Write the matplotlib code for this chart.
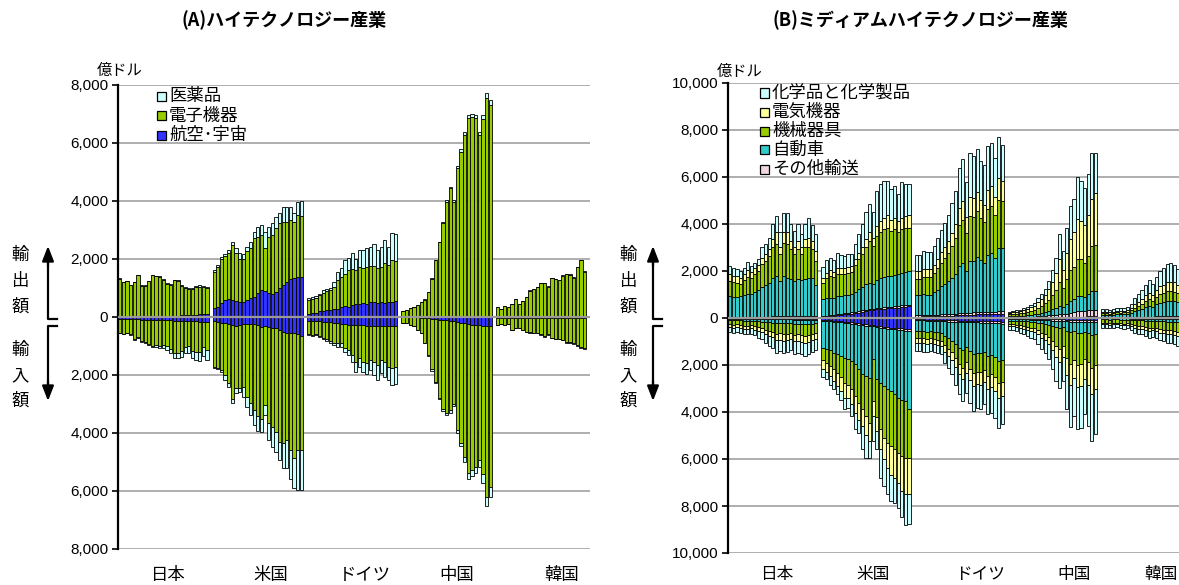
import numpy as np
import matplotlib.pyplot as plt
from matplotlib.patches import Rectangle
from matplotlib.lines import Line2D

plt.rcParams['font.family'] = ['Liberation Sans', 'Noto Sans CJK JP']
JP_FONT = ['Noto Sans CJK JP', 'DejaVu Sans']

W, H = 1179, 585
N_YEARS = 25
COUNTRIES = ['日本', '米国', 'ドイツ', '中国', '韓国']

# ---------------- (A) ハイテクノロジー産業 (億ドル) ----------------
A_LABELS = ['航空･宇宙', '電子機器', '医薬品']          # stacked from zero outwards
A_COLORS = ['#3333ff', '#99cc00', '#ccffff']

JP_A_EX_AERO = [20, 20, 20, 20, 25, 25, 25, 30, 30, 30, 30, 35, 35, 40, 40, 45, 50, 55, 60, 60, 70, 80, 90, 100, 110]
JP_A_EX_ELEC = [1300, 1190, 1210, 1090, 1175, 1410, 1060, 1045, 1195, 1405, 1370, 1345, 1245, 1110, 1080, 1220, 1195, 1010, 950, 900, 905, 965, 960, 925, 890]
JP_A_EX_PHARMA = [10, 10, 10, 10, 10, 15, 15, 15, 15, 15, 20, 20, 20, 20, 20, 25, 25, 25, 30, 30, 35, 35, 40, 45, 50]
JP_A_IM_AERO = [60, 60, 60, 70, 80, 80, 90, 90, 100, 100, 100, 110, 110, 120, 120, 130, 130, 140, 140, 140, 150, 150, 160, 160, 170]
JP_A_IM_ELEC = [480, 510, 480, 515, 680, 620, 725, 780, 820, 890, 880, 890, 850, 880, 980, 1120, 1100, 1030, 880, 870, 1020, 1050, 1060, 880, 960]
JP_A_IM_PHARMA = [20, 20, 20, 25, 30, 30, 35, 40, 50, 60, 70, 80, 100, 130, 150, 180, 200, 220, 230, 240, 260, 280, 300, 320, 340]

US_A_EX_AERO = [300, 330, 470, 590, 610, 590, 560, 530, 530, 590, 640, 700, 820, 930, 910, 840, 790, 870, 990, 1100, 1220, 1300, 1330, 1370, 1390]
US_A_EX_ELEC = [1260, 1400, 1520, 1510, 1610, 1890, 1640, 1460, 1460, 1670, 1730, 2010, 1930, 1890, 1460, 1930, 2040, 2190, 2240, 2190, 2070, 2050, 1960, 2150, 2090]
US_A_EX_PHARMA = [60, 60, 70, 70, 90, 120, 170, 210, 170, 170, 230, 230, 370, 350, 570, 350, 400, 400, 350, 490, 520, 460, 290, 460, 520]
US_A_IM_AERO = [130, 160, 200, 220, 240, 280, 300, 280, 240, 250, 250, 240, 280, 330, 310, 330, 390, 390, 450, 510, 540, 540, 560, 590, 650]
US_A_IM_ELEC = [1580, 1590, 1630, 1780, 2050, 2560, 2140, 2160, 2160, 2520, 2730, 2970, 3130, 3170, 2720, 3330, 3390, 3570, 3850, 3850, 3700, 4050, 4310, 4000, 3940]
US_A_IM_PHARMA = [40, 40, 60, 170, 140, 120, 170, 140, 350, 350, 400, 520, 520, 460, 350, 580, 690, 690, 630, 860, 980, 980, 1040, 1380, 1360]

DE_A_EX_AERO = [120, 140, 150, 210, 210, 230, 250, 290, 290, 350, 370, 350, 400, 440, 460, 480, 460, 510, 520, 480, 510, 480, 510, 520, 550]
DE_A_EX_ELEC = [480, 480, 520, 540, 630, 670, 670, 750, 970, 1030, 1130, 1260, 1270, 1170, 1260, 1220, 1260, 1240, 1230, 1220, 1220, 1370, 1280, 1440, 1380]
DE_A_EX_PHARMA = [70, 70, 70, 60, 80, 80, 90, 170, 290, 320, 460, 440, 540, 400, 600, 600, 670, 670, 760, 600, 690, 800, 630, 940, 920]
DE_A_IM_AERO = [130, 140, 150, 150, 160, 170, 180, 200, 220, 240, 240, 270, 280, 280, 290, 290, 300, 300, 310, 310, 310, 300, 300, 310, 310]
DE_A_IM_ELEC = [460, 490, 440, 520, 560, 590, 650, 680, 690, 670, 820, 870, 1030, 1260, 1130, 1250, 1270, 1180, 1230, 1340, 1170, 1260, 1410, 1460, 1420]
DE_A_IM_PHARMA = [30, 30, 30, 30, 50, 60, 60, 90, 110, 110, 140, 170, 230, 350, 290, 350, 400, 350, 460, 520, 460, 520, 460, 580, 580]

CN_A_EX_AERO = [0, 0, 0, 0, 0, 0, 5, 5, 5, 10, 10, 10, 10, 15, 15, 20, 20, 25, 30, 30, 30, 35, 40, 40, 45]
CN_A_EX_ELEC = [215, 235, 295, 355, 400, 520, 595, 850, 1305, 1940, 2560, 3240, 3970, 4425, 3965, 5110, 5670, 6265, 6830, 6860, 6830, 6235, 6790, 7520, 7275]
CN_A_EX_PHARMA = [5, 5, 5, 5, 10, 10, 10, 15, 20, 20, 30, 40, 60, 60, 60, 80, 90, 100, 110, 110, 110, 120, 140, 160, 170]
CN_A_IM_AERO = [0, 0, 0, 0, 10, 20, 30, 50, 60, 80, 100, 110, 120, 130, 150, 170, 190, 210, 230, 260, 290, 280, 300, 310, 310]
CN_A_IM_ELEC = [190, 210, 270, 300, 430, 520, 860, 1270, 1750, 2170, 2690, 3060, 3190, 3090, 2840, 3740, 4140, 4630, 5160, 5010, 4880, 4650, 5120, 5880, 5550]
CN_A_IM_PHARMA = [10, 10, 10, 10, 10, 20, 20, 30, 40, 40, 50, 60, 70, 80, 80, 100, 120, 150, 180, 200, 220, 230, 300, 330, 340]

KR_A_EX_AERO = [5, 5, 5, 5, 5, 5, 5, 10, 10, 10, 10, 10, 10, 10, 10, 15, 15, 15, 15, 15, 20, 20, 20, 20, 25]
KR_A_EX_ELEC = [335, 280, 360, 335, 450, 610, 450, 535, 670, 900, 950, 1020, 1150, 1150, 1040, 1330, 1290, 1260, 1410, 1465, 1430, 1340, 1690, 1935, 1540]
KR_A_EX_PHARMA = [5, 5, 5, 5, 5, 5, 5, 5, 10, 10, 10, 10, 10, 10, 10, 15, 15, 15, 15, 20, 20, 20, 20, 25, 25]
KR_A_IM_AERO = [20, 20, 20, 20, 30, 30, 30, 30, 30, 30, 30, 30, 40, 40, 40, 40, 40, 40, 40, 40, 40, 40, 40, 40, 40]
KR_A_IM_ELEC = [255, 215, 255, 215, 410, 350, 350, 410, 470, 495, 515, 515, 560, 620, 560, 680, 705, 705, 745, 820, 820, 865, 925, 980, 1040]
KR_A_IM_PHARMA = [5, 5, 5, 5, 10, 10, 10, 10, 10, 15, 15, 15, 20, 20, 20, 20, 25, 25, 25, 30, 30, 35, 35, 40, 40]

# ---------------- (B) ミディアムハイテクノロジー産業 (億ドル) ----------------
B_LABELS = [None, 'その他輸送', '自動車', '機械器具', '電気機器', '化学品と化学製品']
B_COLORS = ['#3333ff', '#f2d6e0', '#33cccc', '#99cc00', '#ffff99', '#ccffff']

JP_B_EX_BLUE = [20, 20, 20, 20, 20, 20, 20, 25, 25, 25, 25, 25, 30, 30, 30, 30, 30, 30, 30, 30, 30, 35, 35, 35, 35]
JP_B_EX_OTHER = [30, 30, 30, 30, 30, 30, 30, 30, 30, 35, 35, 35, 40, 40, 40, 40, 40, 45, 45, 45, 45, 50, 50, 50, 50]
JP_B_EX_AUTO = [890, 850, 850, 890, 930, 990, 960, 1065, 1125, 1260, 1350, 1440, 1650, 1720, 1510, 1720, 1650, 1575, 1505, 1575, 1535, 1565, 1635, 1605, 1325]
JP_B_EX_MACH = [640, 650, 610, 520, 630, 710, 710, 740, 820, 970, 1020, 1140, 1280, 1380, 1130, 1420, 1450, 1280, 1130, 1280, 1100, 1350, 1280, 1240, 1020]
JP_B_EX_ELEC = [280, 240, 280, 260, 250, 280, 250, 280, 260, 280, 280, 290, 350, 470, 290, 470, 470, 350, 290, 350, 290, 350, 420, 350, 400]
JP_B_EX_CHEM = [360, 340, 310, 300, 270, 360, 250, 220, 240, 430, 460, 490, 640, 690, 640, 780, 820, 710, 710, 710, 560, 640, 830, 680, 730]
JP_B_IM_BLUE = [20, 20, 20, 20, 20, 20, 20, 20, 25, 25, 25, 30, 30, 30, 30, 30, 30, 30, 35, 35, 35, 35, 35, 35, 35]
JP_B_IM_OTHER = [15, 15, 15, 15, 20, 20, 20, 20, 20, 20, 25, 25, 25, 25, 25, 30, 30, 30, 30, 30, 30, 30, 30, 30, 30]
JP_B_IM_AUTO = [60, 70, 60, 70, 80, 80, 80, 90, 100, 110, 120, 130, 140, 160, 150, 160, 160, 150, 170, 170, 180, 190, 180, 170, 160]
JP_B_IM_MACH = [160, 180, 160, 180, 200, 200, 190, 220, 250, 270, 320, 370, 390, 460, 440, 460, 440, 420, 470, 460, 480, 500, 470, 440, 420]
JP_B_IM_ELEC = [110, 120, 110, 120, 130, 130, 120, 140, 160, 170, 200, 230, 240, 280, 270, 280, 270, 260, 290, 280, 290, 300, 290, 270, 260]
JP_B_IM_CHEM = [215, 225, 215, 225, 250, 250, 240, 250, 285, 315, 360, 405, 435, 525, 495, 520, 500, 490, 525, 505, 535, 565, 515, 485, 475]

US_B_EX_BLUE = [40, 60, 90, 90, 110, 130, 160, 160, 190, 210, 230, 270, 300, 330, 330, 370, 370, 400, 410, 410, 440, 440, 470, 480, 500]
US_B_EX_OTHER = [40, 40, 40, 40, 40, 50, 50, 50, 50, 50, 60, 60, 60, 60, 60, 60, 70, 70, 70, 70, 70, 70, 70, 70, 70]
US_B_EX_AUTO = [720, 740, 740, 740, 790, 760, 770, 770, 770, 860, 930, 990, 1070, 1120, 1070, 1180, 1250, 1280, 1310, 1310, 1320, 1350, 1390, 1420, 1430]
US_B_EX_MACH = [710, 880, 920, 880, 920, 920, 880, 950, 960, 1140, 1280, 1390, 1570, 1770, 1610, 1880, 1950, 2030, 2060, 1920, 1950, 1780, 1850, 1880, 1850]
US_B_EX_ELEC = [210, 210, 240, 220, 280, 260, 260, 240, 250, 240, 280, 320, 350, 400, 350, 430, 490, 490, 540, 450, 490, 490, 490, 500, 540]
US_B_EX_CHEM = [450, 530, 510, 500, 640, 560, 520, 570, 490, 670, 780, 960, 1140, 1190, 1070, 1490, 1590, 1540, 1450, 1320, 1350, 1140, 1500, 1370, 1300]
US_B_IM_BLUE = [70, 90, 100, 110, 130, 140, 160, 170, 190, 210, 230, 240, 270, 300, 300, 330, 340, 370, 380, 410, 410, 440, 440, 470, 480]
US_B_IM_OTHER = [40, 40, 40, 40, 50, 50, 50, 50, 50, 60, 60, 60, 60, 60, 60, 60, 70, 70, 70, 70, 70, 70, 70, 70, 70]
US_B_IM_AUTO = [1150, 1210, 1240, 1330, 1370, 1430, 1480, 1540, 1590, 1700, 1900, 2100, 2140, 2180, 1400, 2220, 2350, 2460, 2590, 2630, 2770, 2880, 2960, 3000, 3340]
US_B_IM_MACH = [540, 560, 670, 710, 780, 890, 1070, 1070, 1210, 1350, 1420, 1490, 1710, 1920, 1780, 1590, 1980, 2200, 2270, 2340, 2340, 2350, 2410, 2410, 2060]
US_B_IM_ELEC = [390, 390, 420, 490, 570, 600, 630, 560, 640, 710, 710, 710, 780, 780, 640, 600, 850, 920, 1070, 1210, 1210, 1280, 1490, 1560, 1530]
US_B_IM_CHEM = [320, 320, 360, 360, 350, 400, 500, 430, 500, 680, 570, 990, 990, 710, 1060, 790, 1210, 1140, 1130, 1140, 1070, 1060, 1110, 1280, 1280]

DE_B_EX_BLUE = [60, 60, 70, 70, 70, 80, 80, 90, 90, 100, 100, 110, 120, 130, 130, 140, 140, 150, 150, 150, 160, 160, 160, 170, 170]
DE_B_EX_OTHER = [50, 50, 50, 50, 50, 60, 60, 60, 70, 70, 70, 80, 80, 90, 90, 90, 100, 100, 100, 100, 110, 110, 110, 120, 120]
DE_B_EX_AUTO = [850, 850, 880, 870, 870, 950, 1050, 1200, 1300, 1400, 1550, 1700, 2000, 2100, 1800, 2200, 2200, 2350, 2200, 2100, 2400, 2500, 2300, 2700, 2700]
DE_B_EX_MACH = [720, 720, 760, 750, 750, 820, 920, 1010, 1100, 1200, 1350, 1500, 1750, 1850, 1600, 1900, 1850, 1950, 1800, 1750, 1950, 2000, 1800, 2050, 2000]
DE_B_EX_ELEC = [320, 320, 340, 330, 330, 360, 400, 430, 470, 500, 560, 620, 750, 800, 680, 820, 800, 830, 750, 720, 830, 850, 780, 900, 850]
DE_B_EX_CHEM = [700, 700, 740, 740, 730, 780, 890, 970, 1020, 1130, 1270, 1390, 1700, 1780, 1500, 1850, 1810, 1820, 1700, 1680, 1850, 1830, 1650, 1760, 1510]
DE_B_IM_BLUE = [60, 60, 60, 70, 70, 70, 80, 80, 90, 90, 100, 100, 110, 110, 110, 120, 120, 120, 130, 130, 130, 140, 140, 140, 150]
DE_B_IM_OTHER = [40, 40, 40, 40, 40, 50, 50, 50, 50, 60, 60, 60, 60, 70, 70, 70, 70, 70, 80, 80, 80, 80, 80, 90, 90]
DE_B_IM_AUTO = [450, 450, 460, 470, 460, 470, 480, 500, 620, 700, 800, 950, 1100, 1200, 1050, 1200, 1350, 1300, 1300, 1250, 1400, 1350, 1450, 1600, 1550]
DE_B_IM_MACH = [300, 300, 300, 310, 300, 310, 310, 330, 400, 450, 500, 600, 680, 740, 660, 760, 820, 790, 800, 760, 840, 830, 860, 950, 920]
DE_B_IM_ELEC = [200, 200, 210, 210, 200, 210, 210, 220, 270, 300, 330, 390, 440, 480, 430, 500, 540, 520, 530, 500, 560, 550, 580, 640, 620]
DE_B_IM_CHEM = [360, 350, 360, 350, 350, 350, 350, 370, 470, 520, 610, 730, 860, 940, 860, 960, 1060, 1020, 1050, 960, 1090, 1080, 1140, 1250, 1200]

CN_B_EX_BLUE = [10, 10, 10, 10, 10, 10, 10, 20, 20, 20, 20, 30, 30, 30, 40, 40, 40, 50, 50, 60, 60, 60, 70, 70, 70]
CN_B_EX_OTHER = [20, 20, 20, 30, 30, 30, 40, 40, 50, 60, 70, 80, 90, 110, 130, 120, 150, 180, 190, 220, 230, 230, 250, 280, 290]
CN_B_EX_AUTO = [40, 45, 50, 55, 60, 70, 80, 90, 110, 130, 160, 200, 250, 300, 360, 320, 420, 500, 550, 650, 650, 620, 700, 800, 800]
CN_B_EX_MACH = [80, 90, 100, 110, 130, 150, 170, 200, 260, 310, 370, 470, 600, 740, 1000, 800, 1050, 1300, 1400, 1600, 1550, 1450, 1600, 1900, 1950]
CN_B_EX_ELEC = [70, 80, 90, 100, 110, 130, 150, 180, 240, 290, 340, 440, 580, 720, 1000, 780, 1100, 1350, 1450, 1700, 1650, 1600, 1750, 2000, 2200]
CN_B_EX_CHEM = [50, 55, 60, 55, 70, 80, 90, 120, 160, 200, 260, 360, 480, 670, 1030, 790, 1090, 1390, 1420, 1750, 1700, 1590, 1750, 1990, 1690]
CN_B_IM_BLUE = [20, 20, 20, 20, 30, 30, 30, 30, 40, 40, 40, 50, 50, 60, 60, 60, 70, 80, 80, 80, 90, 90, 90, 100, 100]
CN_B_IM_OTHER = [30, 30, 30, 30, 30, 30, 40, 40, 40, 50, 50, 50, 60, 60, 60, 60, 70, 70, 70, 80, 80, 80, 80, 90, 90]
CN_B_IM_AUTO = [60, 60, 60, 70, 80, 80, 90, 100, 120, 140, 160, 190, 230, 280, 320, 280, 400, 460, 420, 480, 470, 420, 470, 530, 500]
CN_B_IM_MACH = [150, 160, 170, 190, 210, 230, 250, 270, 330, 400, 440, 520, 650, 800, 900, 800, 1150, 1350, 1200, 1350, 1300, 1150, 1250, 1400, 1300]
CN_B_IM_ELEC = [80, 85, 90, 100, 110, 120, 130, 140, 170, 210, 240, 300, 380, 480, 540, 480, 720, 880, 800, 950, 950, 850, 950, 1100, 1050]
CN_B_IM_CHEM = [160, 170, 180, 210, 240, 280, 300, 330, 420, 500, 550, 650, 820, 1000, 1120, 1000, 1480, 1800, 1610, 1800, 1780, 1510, 1760, 2020, 1890]

KR_B_EX_BLUE = [5, 5, 5, 5, 5, 5, 5, 5, 10, 10, 10, 10, 10, 10, 10, 15, 15, 15, 15, 15, 15, 15, 15, 20, 20]
KR_B_EX_OTHER = [10, 10, 10, 10, 15, 15, 15, 15, 20, 25, 30, 35, 40, 40, 40, 50, 50, 50, 60, 60, 60, 60, 60, 70, 70]
KR_B_EX_AUTO = [120, 120, 110, 120, 140, 130, 140, 150, 190, 250, 300, 350, 420, 470, 430, 520, 580, 600, 650, 660, 650, 600, 660, 700, 680]
KR_B_EX_MACH = [70, 70, 60, 70, 80, 80, 80, 90, 110, 150, 180, 210, 250, 290, 260, 310, 360, 380, 410, 410, 400, 370, 410, 420, 400]
KR_B_EX_ELEC = [60, 60, 55, 60, 70, 65, 70, 75, 100, 140, 170, 200, 240, 270, 250, 300, 340, 360, 390, 400, 390, 350, 390, 400, 380]
KR_B_EX_CHEM = [105, 105, 90, 105, 130, 115, 130, 135, 180, 265, 320, 375, 450, 530, 470, 555, 655, 715, 765, 775, 745, 675, 725, 690, 650]
KR_B_IM_BLUE = [10, 10, 10, 10, 10, 10, 10, 10, 15, 15, 15, 15, 20, 20, 20, 20, 20, 20, 25, 25, 25, 25, 25, 30, 30]
KR_B_IM_OTHER = [10, 10, 10, 10, 10, 10, 10, 10, 10, 15, 15, 15, 15, 15, 15, 20, 20, 20, 20, 20, 20, 25, 25, 25, 25]
KR_B_IM_AUTO = [40, 40, 45, 40, 40, 45, 50, 45, 55, 65, 70, 70, 80, 90, 85, 90, 100, 100, 110, 110, 120, 130, 140, 140, 140]
KR_B_IM_MACH = [150, 150, 160, 150, 140, 160, 175, 160, 190, 220, 250, 250, 270, 300, 290, 310, 340, 350, 370, 370, 390, 410, 430, 450, 460]
KR_B_IM_ELEC = [60, 60, 65, 60, 55, 65, 70, 65, 80, 95, 105, 105, 115, 125, 120, 130, 140, 145, 155, 155, 165, 175, 185, 190, 195]
KR_B_IM_CHEM = [140, 140, 150, 140, 125, 150, 165, 150, 180, 220, 245, 245, 270, 290, 280, 300, 330, 345, 370, 370, 400, 425, 455, 465, 470]

A_EXPORTS = [
    [JP_A_EX_AERO, JP_A_EX_ELEC, JP_A_EX_PHARMA],
    [US_A_EX_AERO, US_A_EX_ELEC, US_A_EX_PHARMA],
    [DE_A_EX_AERO, DE_A_EX_ELEC, DE_A_EX_PHARMA],
    [CN_A_EX_AERO, CN_A_EX_ELEC, CN_A_EX_PHARMA],
    [KR_A_EX_AERO, KR_A_EX_ELEC, KR_A_EX_PHARMA],
]
A_IMPORTS = [
    [JP_A_IM_AERO, JP_A_IM_ELEC, JP_A_IM_PHARMA],
    [US_A_IM_AERO, US_A_IM_ELEC, US_A_IM_PHARMA],
    [DE_A_IM_AERO, DE_A_IM_ELEC, DE_A_IM_PHARMA],
    [CN_A_IM_AERO, CN_A_IM_ELEC, CN_A_IM_PHARMA],
    [KR_A_IM_AERO, KR_A_IM_ELEC, KR_A_IM_PHARMA],
]
B_EXPORTS = [
    [JP_B_EX_BLUE, JP_B_EX_OTHER, JP_B_EX_AUTO, JP_B_EX_MACH, JP_B_EX_ELEC, JP_B_EX_CHEM],
    [US_B_EX_BLUE, US_B_EX_OTHER, US_B_EX_AUTO, US_B_EX_MACH, US_B_EX_ELEC, US_B_EX_CHEM],
    [DE_B_EX_BLUE, DE_B_EX_OTHER, DE_B_EX_AUTO, DE_B_EX_MACH, DE_B_EX_ELEC, DE_B_EX_CHEM],
    [CN_B_EX_BLUE, CN_B_EX_OTHER, CN_B_EX_AUTO, CN_B_EX_MACH, CN_B_EX_ELEC, CN_B_EX_CHEM],
    [KR_B_EX_BLUE, KR_B_EX_OTHER, KR_B_EX_AUTO, KR_B_EX_MACH, KR_B_EX_ELEC, KR_B_EX_CHEM],
]
B_IMPORTS = [
    [JP_B_IM_BLUE, JP_B_IM_OTHER, JP_B_IM_AUTO, JP_B_IM_MACH, JP_B_IM_ELEC, JP_B_IM_CHEM],
    [US_B_IM_BLUE, US_B_IM_OTHER, US_B_IM_AUTO, US_B_IM_MACH, US_B_IM_ELEC, US_B_IM_CHEM],
    [DE_B_IM_BLUE, DE_B_IM_OTHER, DE_B_IM_AUTO, DE_B_IM_MACH, DE_B_IM_ELEC, DE_B_IM_CHEM],
    [CN_B_IM_BLUE, CN_B_IM_OTHER, CN_B_IM_AUTO, CN_B_IM_MACH, CN_B_IM_ELEC, CN_B_IM_CHEM],
    [KR_B_IM_BLUE, KR_B_IM_OTHER, KR_B_IM_AUTO, KR_B_IM_MACH, KR_B_IM_ELEC, KR_B_IM_CHEM],
]


def fx(px):
    return px / W


def fy(py):
    return 1 - py / H


def draw_panel(ax, exports, imports, colors, lim):
    for g in range(len(COUNTRIES)):
        x = g * (N_YEARS + 1) + np.arange(N_YEARS)
        for table, sign in ((exports, 1), (imports, -1)):
            base = np.zeros(N_YEARS)
            for vals, col in zip(table[g], colors):
                v = np.asarray(vals, dtype=float)
                ax.bar(x, sign * v, bottom=sign * base, width=0.9, color=col,
                       edgecolor='black', linewidth=0.6, zorder=2)
                base += v
    ax.axhline(0, color='#9a9a9a', lw=1.6, zorder=4)
    ax.set_xlim(-0.5, len(COUNTRIES) * (N_YEARS + 1) - 0.5)
    ax.set_ylim(-lim, lim)
    ticks = np.arange(-lim, lim + 1, 2000)
    ax.set_yticks(ticks)
    ax.set_yticklabels([f'{abs(t):,}' for t in ticks], fontsize=11, family='Liberation Sans')
    ax.set_xticks([])
    ax.yaxis.grid(True, color='#a8a8a8', lw=1.3)
    ax.set_axisbelow(True)
    for s in ('top', 'right', 'bottom'):
        ax.spines[s].set_visible(False)
    ax.spines['left'].set_linewidth(1.6)
    ax.tick_params(axis='y', direction='out', length=4, width=1.2, pad=3)


def legend_rows(labels, colors, x0, y0, dy, fs):
    row = 0
    for lab, col in zip(labels, colors):
        if lab is None:
            continue
        y = y0 + row * dy
        fig.add_artist(Rectangle((fx(x0), fy(y + 4.5)), 9 / W, 9 / H, transform=fig.transFigure,
                                 facecolor=col, edgecolor='black', lw=0.9))
        fig.text(fx(x0 + 12), fy(y), lab, fontsize=fs, family=JP_FONT, va='center', ha='left')
        row += 1


def side_marker(xt, xa, foot):
    for ch, y in zip('輸出額', (255, 281, 307)):
        fig.text(fx(xt), fy(y), ch, fontsize=12.5, family=JP_FONT, ha='center', va='center')
    for ch, y in zip('輸入額', (350, 376, 401)):
        fig.text(fx(xt), fy(y), ch, fontsize=12.5, family=JP_FONT, ha='center', va='center')
    fig.add_artist(Line2D([fx(foot), fx(xa), fx(xa)], [fy(319), fy(319), fy(262)],
                          transform=fig.transFigure, color='black', lw=1.6))
    fig.add_artist(Line2D([fx(foot), fx(xa), fx(xa)], [fy(326), fy(326), fy(385)],
                          transform=fig.transFigure, color='black', lw=1.6))
    for y0, y1 in ((266, 246), (381, 401)):
        fig.axes[0].annotate('', xy=(fx(xa), fy(y1)), xytext=(fx(xa), fy(y0)),
                             xycoords='figure fraction', textcoords='figure fraction',
                             arrowprops=dict(arrowstyle='-|>,head_width=0.35,head_length=0.9',
                                             color='black', lw=1.6, shrinkA=0, shrinkB=0),
                             annotation_clip=False)


fig = plt.figure(figsize=(W / 100, H / 100), dpi=100)
axA = fig.add_axes([fx(118), fy(549), (590 - 118) / W, (549 - 85) / H])
axB = fig.add_axes([fx(728), fy(553), (1194 - 728) / W, (553 - 83) / H])

draw_panel(axA, A_EXPORTS, A_IMPORTS, A_COLORS, 8000)
draw_panel(axB, B_EXPORTS, B_IMPORTS, B_COLORS, 10000)

fig.text(fx(284), fy(20), '(A)ハイテクノロジー産業', fontsize=13, fontweight='bold',
         family=JP_FONT, ha='center', va='center')
fig.text(fx(920), fy(20), '(B)ミディアムハイテクノロジー産業', fontsize=13, fontweight='bold',
         family=JP_FONT, ha='center', va='center')
fig.text(fx(120), fy(70), '億ドル', fontsize=11, family=JP_FONT, ha='center', va='center')
fig.text(fx(740), fy(71), '億ドル', fontsize=11, family=JP_FONT, ha='center', va='center')

legend_rows(A_LABELS[::-1], A_COLORS[::-1], 157, 96, 19.5, 12.5)
legend_rows(B_LABELS[::-1], B_COLORS[::-1], 760, 93, 19, 12.5)

for name, x in zip(COUNTRIES, (168, 271, 365, 457, 562)):
    fig.text(fx(x), fy(575), name, fontsize=12.5, family=JP_FONT, ha='center', va='center')
for name, x in zip(COUNTRIES, (777, 873, 980, 1074, 1161)):
    fig.text(fx(x), fy(575), name, fontsize=12, family=JP_FONT, ha='center', va='center')

side_marker(20, 48, 57)
side_marker(628, 653, 662)

fig.savefig('out.png', dpi=100)
